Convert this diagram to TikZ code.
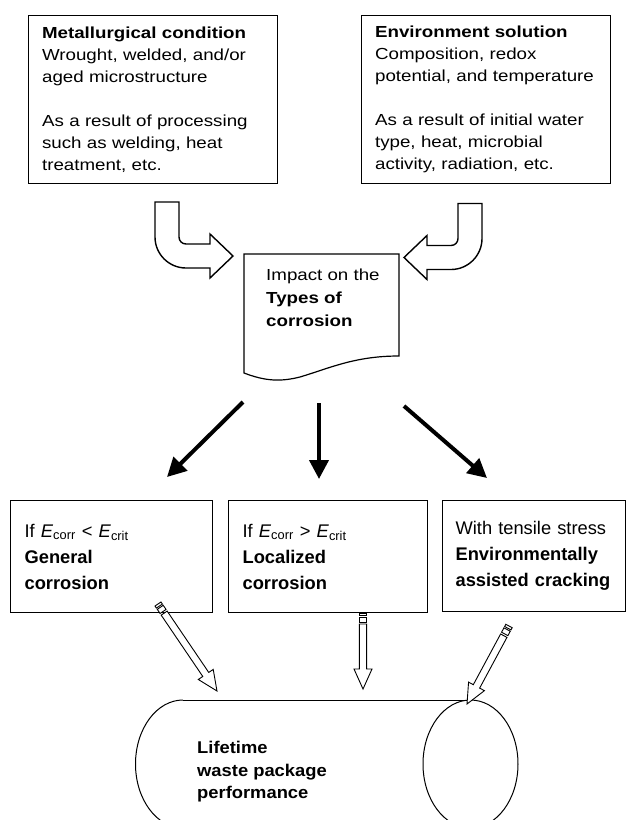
\documentclass[tikz,border=0pt]{standalone}
\usepackage{fontspec}
\setmainfont{Liberation Sans}
\newfontfamily\wideface{Liberation Sans}[FakeStretch=1.17]
\newfontfamily\cylface{Liberation Sans}[FakeStretch=1.08]
\usetikzlibrary{arrows.meta,calc}

\tikzset{
  boxframe/.style={draw, line width=1.2pt, anchor=north west, inner ysep=0pt, align=left},
  topbox/.style={boxframe, inner xsep=13.5pt, text width=222pt, minimum height=168pt,
    font=\wideface\fontsize{16}{22}\selectfont},
  botbox/.style={boxframe, inner xsep=14pt, minimum height=112pt,
    font=\fontsize{18.3}{26}\selectfont},
  textonly/.style={anchor=north west, inner sep=0pt, align=left},
  docline/.style={line width=1.2pt, line join=miter},
  uturn/.style={draw, fill=white, line width=1.4pt, line join=miter},
  bigarrow/.style={line width=4pt, -{Triangle[length=19pt,width=19pt]}},
  thinarrow/.style={draw, fill=white, line width=0.9pt, line join=miter},
  cylline/.style={line width=1pt},
}

% hollow arrow with two stripes at its tail, from tail coordinate #1 to tip #2
\newcommand\stripedarrow[2]{%
  \path let \p1=(#1), \p2=(#2) in
    \pgfextra{%
      \pgfmathsetmacro\sarA{atan2((\y2)-(\y1),(\x2)-(\x1))}%
      \pgfmathsetmacro\sarL{veclen((\x2)-(\x1),(\y2)-(\y1))}%
      \xdef\sarang{\sarA}\xdef\sarlen{\sarL}};
  \begin{scope}[shift={(#1)}, rotate=\sarang]
    \path[thinarrow] (0,-3.6) rectangle (2.5,3.6);
    \path[thinarrow] (4,-3.6) rectangle (9,3.6);
    \path[thinarrow] (11,-3.6) -- (\sarlen-20,-3.6) -- (\sarlen-20,-9) -- (\sarlen,0)
      -- (\sarlen-20,9) -- (\sarlen-20,3.6) -- (11,3.6) -- cycle;
  \end{scope}}

\begin{document}
\begin{tikzpicture}[x=1pt, y=-1pt]
\path[use as bounding box] (0,0) rectangle (636,820);
\clip (0,0) rectangle (636,820);

% the two influences
\node[topbox] (metal) at (28,15) {\textbf{Metallurgical condition}\\Wrought, welded, and/or\\aged microstructure\\[22pt]As a result of processing\\such as welding, heat\\treatment, etc.};
\node[topbox] (env) at (361,15) {\textbf{Environment solution}\\Composition, redox\\potential, and temperature\\[22pt]As a result of initial water\\type, heat, microbial\\activity, radiation, etc.};

% bent block arrows
\path[uturn] (155,202) -- (179,202) -- (179,237) .. controls (179,240.9) and (182.1,244) .. (186,244)
  -- (210,244) -- (210,234) -- (233,256) -- (210,278) -- (210,268) -- (186,268)
  .. controls (168.9,268) and (155,254.1) .. (155,237) -- cycle;
\path[uturn] (482,203.5) -- (458,203.5) -- (458,238.5) .. controls (458,242.4) and (454.9,245.5) .. (451,245.5)
  -- (427,245.5) -- (427,235.5) -- (404,257.5) -- (427,279.5) -- (427,269.5) -- (451,269.5)
  .. controls (468.1,269.5) and (482,255.6) .. (482,238.5) -- cycle;

% document shape
\draw[docline] (244,254) -- (399,254) -- (399,356) .. controls (355,356) and (330,368) .. (300,377)
  .. controls (280,382) and (265,381) .. (244,373) -- cycle;
\node[textonly, font=\wideface\fontsize{16}{23}\selectfont] (impact) at (266,269)
  {Impact on the\\\textbf{Types of}\\\textbf{corrosion}};

% three outcomes
\coordinate (a1s) at (243,402); \coordinate (a1e) at (167,477);
\coordinate (a2s) at (319,403); \coordinate (a2e) at (319,479);
\coordinate (a3s) at (404,406); \coordinate (a3e) at (487,478);
\draw[bigarrow] (a1s) -- (a1e);
\draw[bigarrow] (a2s) -- (a2e);
\draw[bigarrow] (a3s) -- (a3e);

\node[botbox, text width=174pt] (gen) at (10,500)
  {If \textit{E}\textsubscript{corr} < \textit{E}\textsubscript{crit}\\\textbf{General}\\\textbf{corrosion}};
\node[botbox, text width=171pt] (loc) at (228,500)
  {If \textit{E}\textsubscript{corr} > \textit{E}\textsubscript{crit}\\\textbf{Localized}\\\textbf{corrosion}};
\node[botbox, inner xsep=13pt, text width=157pt, minimum height=111pt] (eac) at (442,500)
  {With tensile stress\\\textbf{Environmentally}\\\textbf{assisted cracking}};

% waste package cylinder
\draw[cylline] (183,700) -- (470.5,700);
\draw[cylline] (183,700) arc[start angle=90, end angle=270, x radius=47.5pt, y radius=64pt] -- (470.5,828);
\draw[cylline] (470.5,764) ellipse [x radius=47.5pt, y radius=64pt];
\node[textonly, font=\cylface\bfseries\fontsize{17}{22.7}\selectfont] (life) at (197,741)
  {Lifetime\\waste package\\performance};

% striped arrows into the package
\coordinate (s1t) at (158,604); \coordinate (s1h) at (217,691);
\coordinate (s2t) at (363,613); \coordinate (s2h) at (363,689);
\coordinate (s3t) at (509,626); \coordinate (s3h) at (467,704);
\stripedarrow{s1t}{s1h}
\stripedarrow{s2t}{s2h}
\stripedarrow{s3t}{s3h}
\end{tikzpicture}
\end{document}
